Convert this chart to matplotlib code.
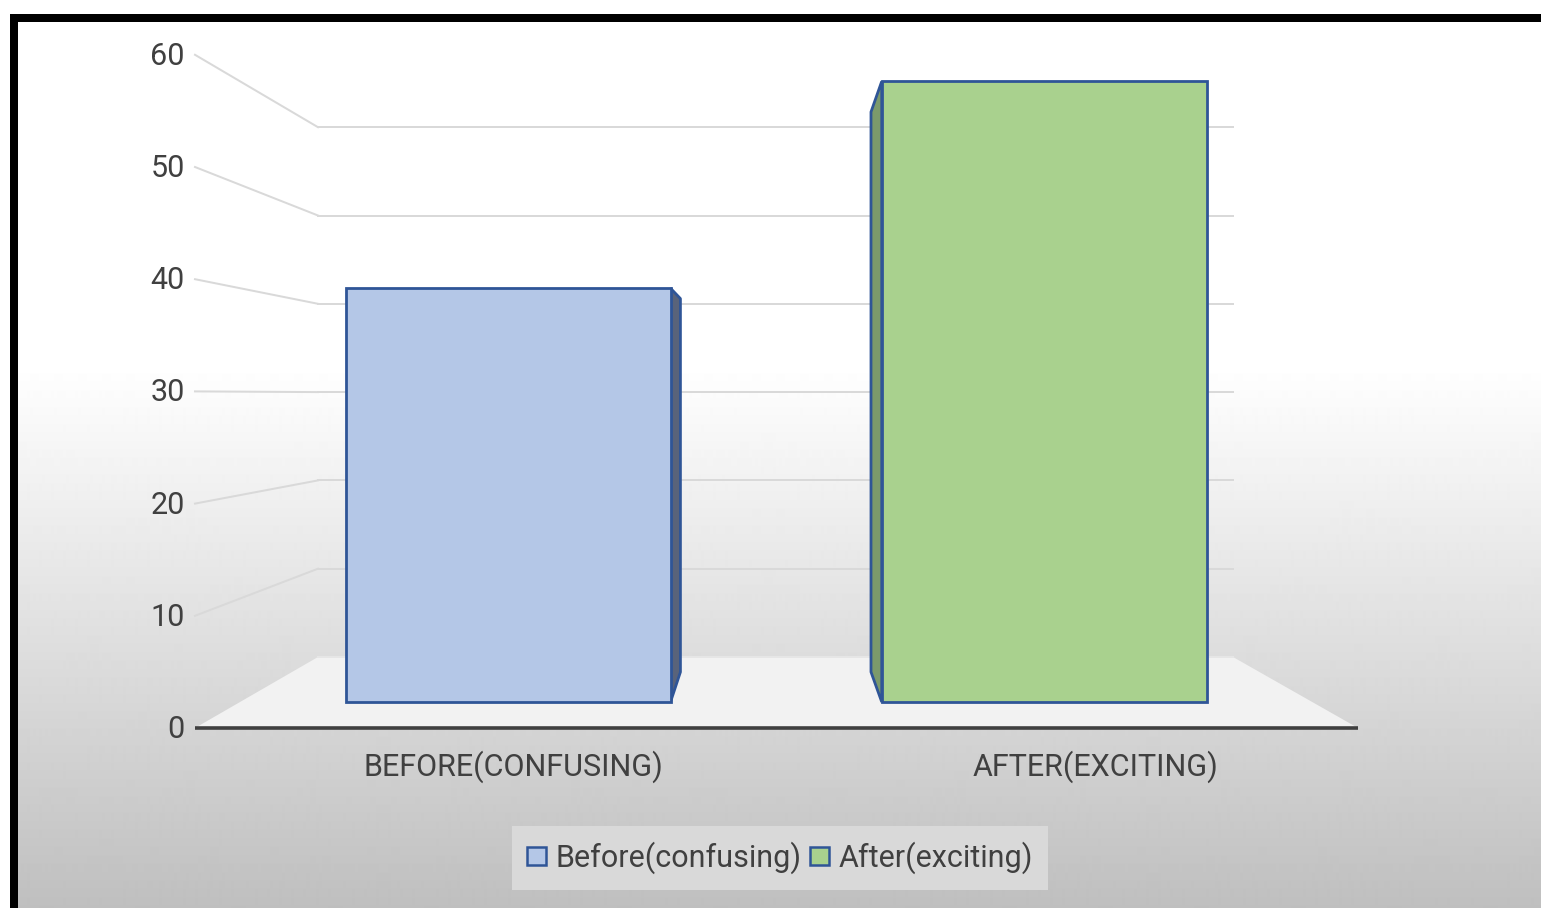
import numpy as np
import matplotlib
matplotlib.use("Agg")
import matplotlib.pyplot as plt
from matplotlib.patches import Polygon, Patch

# ---- data ----
categories = ["BEFORE(CONFUSING)", "AFTER(EXCITING)"]
series_names = ["Before(confusing)", "After(exciting)"]
values = [40, 60]
y_ticks = [0, 10, 20, 30, 40, 50, 60]

face_colors = ["#b4c7e7", "#a9d18e"]
side_colors = ["#59637a", "#7c9a6b"]
edge_color = "#2f5597"
text_color = "#404040"

W, H = 1541, 908
DPI = 100
plt.rcParams['font.family'] = ['Roboto', 'DejaVu Sans']

# ---- pseudo-3D projection (pixel space) ----
FX0, FX1 = 195, 1358   # front plane x extent
BX0, BX1 = 318, 1233   # back plane x extent
FY0, BY0 = 728, 657    # baseline (value 0) front / back
FS, BS = 11.22, 8.83   # px per unit front / back
D_FRONT, D_BACK = 0.366, 0.789
BAR_HALF = 0.1515


def proj(u, v, d):
    xl = FX0 + (BX0 - FX0) * d
    xr = FX1 + (BX1 - FX1) * d
    y0 = FY0 + (BY0 - FY0) * d
    s = FS + (BS - FS) * d
    return xl + u * (xr - xl), y0 - s * v


fig = plt.figure(figsize=(W / DPI, H / DPI), dpi=DPI)

# background gradient
bg = fig.add_axes([0, 0, 1, 1])
rows = np.arange(H)
g = np.where(rows < 365, 255.0, 255.0 - (255 - 191) * (rows - 365) / (H - 365)) / 255.0
img = np.repeat(g[:, None], 2, axis=1)
bg.imshow(img, cmap="gray", vmin=0, vmax=1, aspect="auto",
          extent=[0, W, H, 0], interpolation="bilinear")
bg.set_xlim(0, W)
bg.set_ylim(H, 0)
bg.axis("off")
# white outside of the border
bg.fill_between([0, W], 0, 14, color="white", zorder=2)
bg.fill_between([0, 10], 0, H, color="white", zorder=2)

ax = fig.add_axes([0, 0, 1, 1])
ax.set_xlim(0, W)
ax.set_ylim(H, 0)
ax.axis("off")
ax.patch.set_alpha(0)

# chart border (top and left)
ax.plot([10, W], [18, 18], color="black", lw=8 * 72 / DPI, solid_capstyle="butt", zorder=10)
ax.plot([14, 14], [14, H], color="black", lw=8 * 72 / DPI, solid_capstyle="butt", zorder=10)

# floor
floor = [proj(0, 0, 0), proj(0, 0, 1), proj(1, 0, 1), proj(1, 0, 0)]
ax.add_patch(Polygon(floor, closed=True, facecolor="#f2f2f2", edgecolor="none", zorder=1))

# gridlines: side wall + back wall
grid_c = "#d9d9d9"
glw = 2 * 72 / DPI
for v in y_ticks:
    (xa, ya), (xb, yb), (xc, yc) = proj(0, v, 0), proj(0, v, 1), proj(1, v, 1)
    if v > 0:
        ax.plot([xa, xb], [ya, yb], color=grid_c, lw=glw, zorder=2)
    ax.plot([xb, xc], [yb, yc], color=grid_c if v > 0 else "#e6e6e6", lw=glw, zorder=2)

# axis line
(xa, ya), (xb, yb) = proj(0, 0, 0), proj(1, 0, 0)
ax.plot([xa, xb], [ya, yb], color=text_color, lw=2.6, zorder=3, solid_capstyle="butt")

# bars
n = len(categories)
blw = 2.0
for i, v in enumerate(values):
    c = (i + 0.5) / n
    u0, u1 = c - BAR_HALF, c + BAR_HALF
    # visible side: the one facing the chart centre
    us = u1 if c < 0.5 else u0
    side = [proj(us, 0, D_FRONT), proj(us, v, D_FRONT), proj(us, v, D_BACK), proj(us, 0, D_BACK)]
    ax.add_patch(Polygon(side, closed=True, facecolor=side_colors[i], edgecolor=edge_color,
                         lw=blw, joinstyle="bevel", zorder=4))
    front = [proj(u0, 0, D_FRONT), proj(u0, v, D_FRONT), proj(u1, v, D_FRONT), proj(u1, 0, D_FRONT)]
    ax.add_patch(Polygon(front, closed=True, facecolor=face_colors[i], edgecolor=edge_color,
                         lw=blw, joinstyle="miter", zorder=5))

# y tick labels
for v in y_ticks:
    x, y = proj(0, v, 0)
    ax.text(x - 10, y + 1.5, str(v), ha="right", va="center", fontsize=22, color=text_color)

# category labels
for i, cat in enumerate(categories):
    x, y = proj((i + 0.5) / n, 0, 0)
    ax.text(x + 28, y + 39, cat, ha="center", va="center", fontsize=22, color=text_color)

# legend
handles = [Patch(facecolor=face_colors[i], edgecolor=edge_color, lw=1.8, label=series_names[i])
           for i in range(n)]
leg = fig.legend(handles=handles, loc="center", bbox_to_anchor=(780 / W, 1 - 858 / H),
                 ncol=2, frameon=True, fancybox=False, fontsize=22,
                 handlelength=0.62, handleheight=0.55, handletextpad=0.3,
                 columnspacing=0.3, borderpad=0.5, borderaxespad=0)
leg.get_frame().set_facecolor("#d9d9d9")
leg.get_frame().set_edgecolor("none")
leg.get_frame().set_alpha(1)
for t in leg.get_texts():
    t.set_color(text_color)

fig.savefig("out.png", dpi=DPI)
